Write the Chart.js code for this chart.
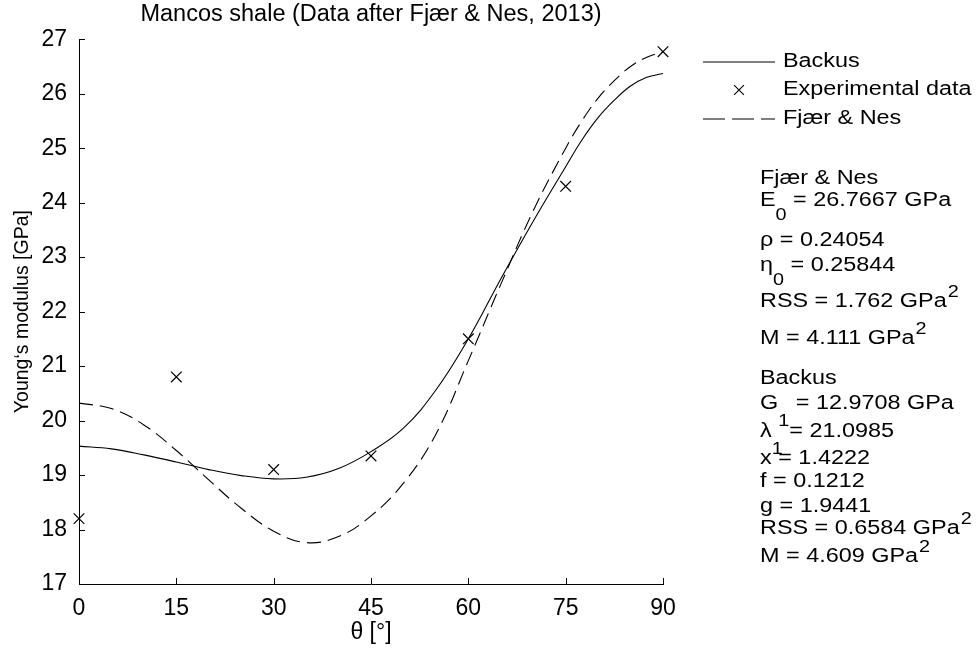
<!DOCTYPE html>
<html lang="en">
<head>
    <meta charset="UTF-8">
    <title>Mancos shale - Young's modulus</title>
    <script src="https://cdn.jsdelivr.net/npm/chart.js"></script>
    <style>
        body {
            margin: 0;
            background-color: #ffffff;
        }

        #wrap {
            width: 978px;
            height: 653px;
        }
    </style>
</head>
<body>

<div id="wrap">
    <canvas id="youngChart" width="978" height="653"></canvas>
</div>

<script>
    // model curves (denser near the top where they bend)
    const curveAngles = [0, 5, 10, 15, 20, 25, 30, 35, 40, 45, 50, 55, 60, 65, 70, 75, 77.5, 80, 82.5, 85, 87.5, 90];
    const backusModel = [19.53, 19.48, 19.37, 19.24, 19.1, 18.99, 18.93, 18.96, 19.12, 19.43, 19.86, 20.56, 21.5, 22.6, 23.66, 24.66, 25.15, 25.56, 25.88, 26.14, 26.3, 26.37];
    const fjaerNesModel = [20.32, 20.22, 19.92, 19.45, 18.91, 18.39, 17.97, 17.76, 17.87, 18.25, 18.85, 19.75, 21.1, 22.5, 23.85, 25.0, 25.5, 25.92, 26.24, 26.5, 26.67, 26.77];

    // measured points
    const measuredAngles = [0, 15, 30, 45, 60, 75, 90];
    const measuredModulus = [18.2, 20.8, 19.1, 19.35, 21.5, 24.3, 26.77];

    const xTicks = [0, 15, 30, 45, 60, 75, 90];
    const yTicks = [17, 18, 19, 20, 21, 22, 23, 24, 25, 26, 27];

    const legendLabels = ['Backus', 'Experimental data', 'Fjær & Nes'];

    // fit parameters printed on the right; [text, sub, rest, sup]
    const fjaerNesParams = [
        ['Fjær & Nes'],
        ['E', '0', ' = 26.7667 GPa'],
        ['ρ = 0.24054'],
        ['η', '0', ' = 0.25844'],
        ['RSS = 1.762 GPa', null, '', '2'],
        ['M = 4.111 GPa', null, '', '2']
    ];
    const backusParams = [
        ['Backus'],
        ['G', '1', ' = 12.9708 GPa'],
        ['λ', '1', ' = 21.0985'],
        ['x = 1.4222'],
        ['f = 0.1212'],
        ['g = 1.9441'],
        ['RSS = 0.6584 GPa', null, '', '2'],
        ['M = 4.609 GPa', null, '', '2']
    ];

    const FONT = '"Liberation Sans", Arial, Helvetica, sans-serif';
    const STRETCH = 1.2;

    Chart.defaults.font.family = FONT;
    Chart.defaults.color = '#000';

    function toPoints(xs, ys) {
        return xs.map((x, i) => ({ x: x, y: ys[i] }));
    }

    // text is a bit wider than tall in the original
    function wideText(ctx, str, x, y, size) {
        ctx.save();
        ctx.translate(x, y);
        ctx.scale(STRETCH, 1);
        ctx.font = size + 'px ' + FONT;
        ctx.fillText(str, 0, 0);
        const w = ctx.measureText(str).width * STRETCH;
        ctx.restore();
        return w;
    }

    function paramLine(ctx, item, x, y, subDrop) {
        let w = wideText(ctx, item[0], x, y, 19.5);
        if (item[1]) {
            w += wideText(ctx, item[1], x + w, y + subDrop, 16.5);
        }
        if (item[2]) {
            w += wideText(ctx, item[2], x + w, y, 19.5);
        }
        if (item[3]) {
            wideText(ctx, item[3], x + w + 1, y - 10, 16.5);
        }
    }

    const inwardTicks = {
        id: 'inwardTicks',
        afterDatasetsDraw(chart) {
            const ctx = chart.ctx;
            const area = chart.chartArea;
            const xs = chart.scales.x;
            const ys = chart.scales.y;
            ctx.save();
            ctx.strokeStyle = '#000';
            ctx.lineWidth = 1;
            ctx.beginPath();
            xTicks.forEach(v => {
                const px = Math.round(xs.getPixelForValue(v)) + 0.5;
                ctx.moveTo(px, area.bottom);
                ctx.lineTo(px, area.bottom - 6);
            });
            yTicks.forEach(v => {
                const py = Math.round(ys.getPixelForValue(v)) + 0.5;
                ctx.moveTo(area.left, py);
                ctx.lineTo(area.left + 6, py);
            });
            ctx.stroke();
            ctx.restore();
        }
    };

    const sidePanel = {
        id: 'sidePanel',
        afterDraw(chart) {
            const ctx = chart.ctx;
            ctx.save();
            ctx.fillStyle = '#000';
            ctx.strokeStyle = '#000';
            ctx.textBaseline = 'middle';
            ctx.textAlign = 'left';

            // legend
            const legendY = [62, 90, 119];
            ctx.lineWidth = 1.1;
            ctx.beginPath();
            ctx.moveTo(703, legendY[0]);
            ctx.lineTo(775, legendY[0]);
            ctx.stroke();
            Chart.helpers.drawPoint(ctx, { pointStyle: 'crossRot', radius: 7, borderWidth: 1, rotation: 0 }, 739, legendY[1]);
            ctx.setLineDash([22, 7]);
            ctx.beginPath();
            ctx.moveTo(703, legendY[2]);
            ctx.lineTo(775, legendY[2]);
            ctx.stroke();
            ctx.setLineDash([]);
            legendLabels.forEach((lbl, i) => wideText(ctx, lbl, 783, legendY[i], 19.5));

            // parameter blocks
            const fnY = [179, 201, 241, 266, 302, 339];
            fjaerNesParams.forEach((p, i) => paramLine(ctx, p, 760, fnY[i], 14));
            const bkY = [379, 404, 432, 459, 482, 507, 529, 557];
            backusParams.forEach((p, i) => paramLine(ctx, p, 760, bkY[i], 17));
            ctx.restore();
        }
    };

    const ctx = document.getElementById('youngChart').getContext('2d');

    new Chart(ctx, {
        type: 'line',
        data: {
            datasets: [{
                label: legendLabels[0],
                data: toPoints(curveAngles, backusModel),
                borderColor: '#000',
                borderWidth: 1.1,
                pointRadius: 0,
                tension: 0.4,
                fill: false
            }, {
                label: legendLabels[1],
                type: 'scatter',
                data: toPoints(measuredAngles, measuredModulus),
                showLine: false,
                pointStyle: 'crossRot',
                pointRadius: 7.5,
                pointBorderWidth: 1.2,
                borderColor: '#000',
                backgroundColor: '#000',
                clip: false
            }, {
                label: legendLabels[2],
                data: toPoints(curveAngles, fjaerNesModel),
                borderColor: '#000',
                borderWidth: 1.1,
                borderDash: [14, 7],
                pointRadius: 0,
                tension: 0.4,
                fill: false
            }]
        },
        options: {
            responsive: false,
            animation: false,
            devicePixelRatio: 1,
            layout: {
                padding: { left: 0, right: 315, top: 0, bottom: 0 }
            },
            plugins: {
                legend: { display: false },
                tooltip: { enabled: false },
                title: {
                    display: true,
                    fullSize: false,
                    text: 'Mancos shale (Data after Fjær & Nes, 2013)',
                    color: '#000',
                    font: { size: 23.5, weight: 'normal' },
                    padding: { top: 0, bottom: 11 }
                }
            },
            scales: {
                x: {
                    type: 'linear',
                    min: 0,
                    max: 90,
                    afterBuildTicks: scale => { scale.ticks = xTicks.map(v => ({ value: v })); },
                    afterFit: scale => { scale.height = 69; },
                    ticks: { font: { size: 23 }, color: '#000', padding: 11, maxRotation: 0 },
                    grid: { drawOnChartArea: false, drawTicks: false },
                    border: { color: '#000', width: 1 },
                    title: {
                        display: true,
                        text: 'θ [°]',
                        color: '#000',
                        font: { size: 23 },
                        padding: { top: 0, bottom: 7 }
                    }
                },
                y: {
                    min: 17,
                    max: 27,
                    afterBuildTicks: scale => { scale.ticks = yTicks.map(v => ({ value: v })); },
                    afterFit: scale => { scale.width = 79; },
                    ticks: { font: { size: 23 }, color: '#000', padding: 12 },
                    grid: { drawOnChartArea: false, drawTicks: false },
                    border: { color: '#000', width: 1 },
                    title: {
                        display: true,
                        text: 'Young‘s modulus [GPa]',
                        color: '#000',
                        font: { size: 19.5 },
                        padding: { top: 11, bottom: 4 }
                    }
                }
            }
        },
        plugins: [inwardTicks, sidePanel]
    });
</script>
</body>
</html>
